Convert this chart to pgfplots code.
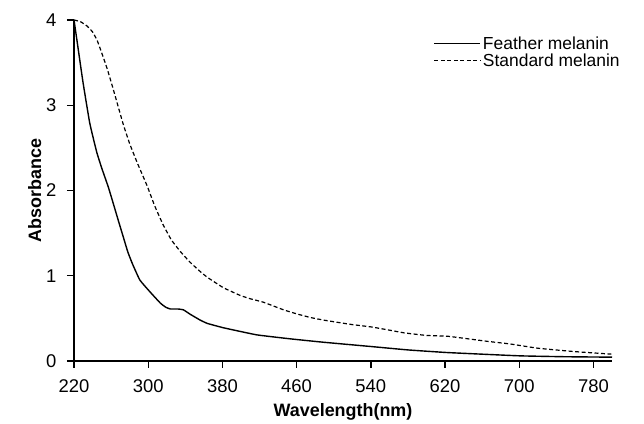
\documentclass[border=0pt]{standalone}
\usepackage{fontspec}
\setmainfont{Liberation Sans}
\usepackage{pgfplots}
\pgfplotsset{compat=1.18}

\begin{document}
\begin{tikzpicture}
\begin{axis}[
    name=ax,
    scale only axis,
    width=538bp, height=341bp,
    xmin=220, xmax=800,
    ymin=0, ymax=4,
    clip=false,
    xtick={220,300,380,460,540,620,700,780},
    ytick={0,1,2,3,4},
    axis lines*=left,
    axis line style={line width=1.6bp, -},
    tick align=outside,
    tick style={draw=black, line width=1.4bp},
    major tick length=7bp,
    tick label style={font=\fontsize{18.5}{20}\selectfont},
    xticklabel style={yshift=-8bp},
    yticklabel style={xshift=-7bp},
    xlabel={\textbf{Wavelength(nm)}},
    ylabel={\textbf{Absorbance}},
    label style={font=\fontsize{18}{20}\selectfont},
    xlabel style={yshift=-4bp},
    ylabel style={yshift=-2bp},
    legend style={at={(0.668,0.958)}, anchor=north west, draw=none, fill=none,
        font=\fontsize{17.5}{19}\selectfont, row sep=-1pt, inner sep=0pt},
    legend cell align=left,
    legend image code/.code={\draw[#1] (0bp,0bp) -- (46bp,0bp);},
    /pgf/number format/1000 sep={},
    /pgf/number format/assume math mode=true,
]
\addplot[black, line width=1.4bp, smooth, tension=0.25] coordinates {
(220,4.0) (224,3.70) (229.7,3.27) (237,2.79) (244.5,2.45) (250,2.26)
(257,2.04) (262,1.86) (268,1.64) (273,1.46) (278,1.28) (283,1.14)
(291,0.95) (302,0.81) (313,0.68) (319,0.63) (324,0.61) (332,0.61)
(338,0.60) (345,0.55) (356,0.48) (364,0.44) (381,0.39) (400,0.345)
(418,0.305) (453,0.26) (489,0.22) (540,0.17) (580,0.13) (621,0.10)
(660,0.08) (702,0.06) (750,0.05) (800,0.045)
};
\addlegendentry{Feather melanin}
\addplot[black, line width=1.2bp, dash pattern=on 4bp off 2.5bp, smooth, tension=0.25] coordinates {
(220,4.0) (227,3.98) (234,3.93) (240,3.86) (245,3.76) (251,3.58)
(256,3.42) (262,3.20) (268,2.97) (273,2.78) (280,2.55) (288,2.33)
(299,2.05) (307,1.82) (316,1.60) (325,1.42) (335,1.28) (345,1.16)
(356,1.05) (364,0.98) (381,0.86) (399,0.77) (410,0.73) (424,0.69)
(446,0.60) (461,0.55) (475,0.51) (489,0.48) (518,0.43) (540,0.40)
(556,0.37) (576,0.33) (600,0.30) (623,0.29) (645,0.26) (666,0.23)
(690,0.20) (720,0.15) (760,0.11) (800,0.08)
};
\addlegendentry{Standard melanin}
\pgfplotsinvokeforeach{220,300,380,460,540,620,700,780}{
  \draw[line width=1.4bp] (axis cs:#1,0) -- ([yshift=-7bp]axis cs:#1,0);
}
\pgfplotsinvokeforeach{0,1,2,3,4}{
  \draw[line width=1.4bp] (axis cs:220,#1) -- ([xshift=-7bp]axis cs:220,#1);
}
\end{axis}
\path ([shift={(-74bp,-61bp)}]ax.south west) rectangle ([shift={(32bp,20bp)}]ax.north east);
\end{tikzpicture}
\end{document}
